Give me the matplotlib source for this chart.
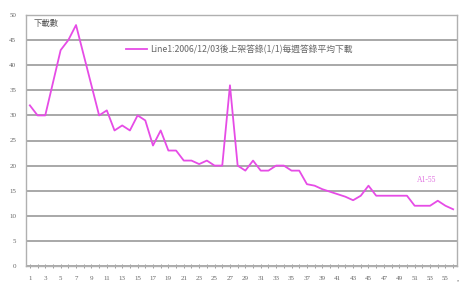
import matplotlib
matplotlib.use("Agg")
import matplotlib.pyplot as plt
import matplotlib.transforms as mtransforms

plt.rcParams['font.family'] = ['Noto Sans CJK TC', 'DejaVu Sans']

weeks = list(range(1, 57))
downloads = [32, 30, 30, 36.5, 43, 45, 48, 42, 36, 30, 31, 27, 28, 27, 30, 29,
             24, 27, 23, 23, 21, 21, 20.3, 21, 20, 20, 36, 20, 19, 21, 19, 19,
             20, 20, 19, 19, 16.3, 16, 15.3, 14.8, 14.3, 13.8, 13.1, 14, 16, 14,
             14, 14, 14, 14, 12, 12, 12, 13, 12, 11.3]
x_tick_labels = [str(i) for i in range(1, 56, 2)]
y_ticks = list(range(0, 51, 5))
legend_label = "Line1:2006/12/03後上架答錄(1/1)每週答錄平均下載"
y_title = "下載數"
series_note = "A1-55"

fig = plt.figure(figsize=(4.6, 2.82), dpi=100)
ax = fig.add_axes([26/460, 1-266/282, (457-26)/460, (266-15)/282])

line_color = "#e64ce6"
ln, = ax.plot(weeks, downloads, color=line_color, lw=1.3, label=legend_label)

ax.set_xlim(0.5, 56.5)
ax.set_ylim(0, 50)
ax.set_yticks(y_ticks)
ax.set_yticklabels([str(v) for v in y_ticks], fontsize=5, family='Liberation Serif', color='#666666')
ax.set_xticks(list(range(1, 56, 2)))
ax.set_xticklabels(x_tick_labels, fontsize=5, family='Liberation Serif', color='#666666')
ax.set_xticks(weeks, minor=True)
ax.tick_params(axis='x', which='both', direction='inout', length=3, width=0.6, color='#888888', pad=6)
ax.tick_params(axis='y', length=0, pad=7)

trans = mtransforms.blended_transform_factory(ax.transData, ax.transAxes)
ax.text(56.9, -0.055, "57", transform=trans, fontsize=5, family='Liberation Serif',
        color='#666666', ha='center', va='top', clip_on=False)

ax.grid(axis='y', color='#a8a8a8', lw=1.4)
ax.set_axisbelow(True)
for s in ax.spines.values():
    s.set_color('#b0b0b0')
    s.set_linewidth(1.0)

ax.text(0.017, 0.985, y_title, transform=ax.transAxes, fontsize=6, color='#555555',
        ha='left', va='top')

leg = ax.legend(handles=[ln], loc='upper left', bbox_to_anchor=(0.225, 0.895),
                frameon=False, fontsize=6.3, handlelength=2.4, handletextpad=0.3,
                labelcolor='#666666', borderaxespad=0)

ax.text(52.5, 16.3, series_note, fontsize=5.5, family='Liberation Serif',
        color='#e070e0', ha='center', va='bottom')

fig.savefig("out.png", dpi=100)
